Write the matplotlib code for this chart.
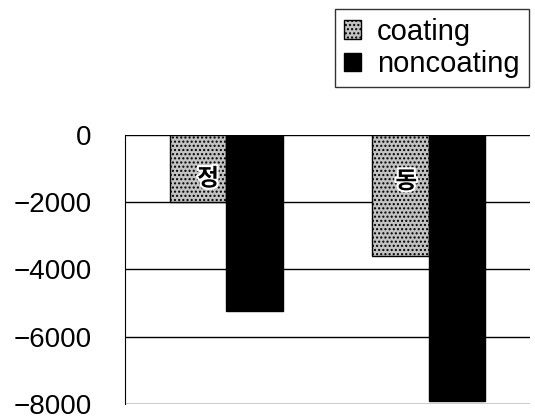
import matplotlib.pyplot as plt
import matplotlib.patheffects as pe
import numpy as np

plt.rcParams['font.family'] = ['Noto Sans CJK KR', 'DejaVu Sans']

# 데이터
categories = ["정", "동"]
coating = [-2000, -3600]
noncoating = [-5250, -7900]
yticks = [0, -2000, -4000, -6000, -8000]

fig = plt.figure(figsize=(5.35, 4.2), dpi=100)
ax = fig.add_axes([0.234, 0.038, 0.756, 0.641])

x = np.arange(len(categories))
w = 0.28
b1 = ax.bar(x - w / 2, coating, w, color="#c2c2c2", edgecolor="black",
            linewidth=1, hatch="....", label="coating", zorder=3)
b2 = ax.bar(x + w / 2, noncoating, w, color="black", edgecolor="black",
            linewidth=1, label="noncoating", zorder=3)

# 막대 안의 글자
label_dx = [-0.09, -0.11]
for i, cat in enumerate(categories):
    ax.text(x[i] + label_dx[i], -1300 - 80 * i, cat, ha="center", va="center",
            fontsize=17, fontweight="bold", color="black", zorder=4,
            path_effects=[pe.withStroke(linewidth=3, foreground="white")])

ax.set_xlim(-0.5, 1.5)
ax.set_ylim(-8000, 0)
ax.set_yticks(yticks)
ax.set_yticklabels(["0", "\u22122000", "\u22124000", "\u22126000", "\u22128000"],
                   fontsize=20, family="Liberation Sans")
ax.set_xticks([])
ax.tick_params(axis="y", length=0, pad=24)
ax.grid(axis="y", color="black", linewidth=1, zorder=0)
for s in ["top", "right", "bottom"]:
    ax.spines[s].set_visible(False)
ax.spines["left"].set_linewidth(0.8)
ax.spines["left"].set_linestyle((0, (6, 1)))

fig.legend(handles=[b1, b2], loc="upper right", bbox_to_anchor=(0.988, 0.978),
           borderaxespad=0, frameon=True, fancybox=False, edgecolor="black",
           handlelength=0.6, handleheight=0.6, handletextpad=0.55,
           borderpad=0.3, labelspacing=0.15,
           prop={"family": "Liberation Sans", "size": 21})

fig.savefig("out.png", dpi=100)
